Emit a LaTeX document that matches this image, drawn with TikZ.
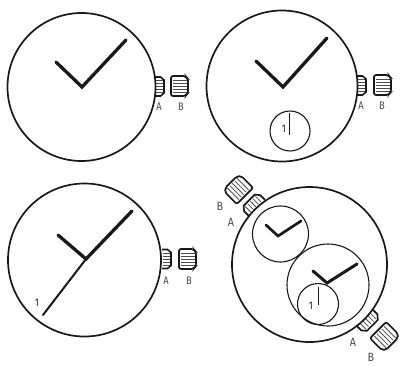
\documentclass[tikz,border=0pt]{standalone}
\usepackage{fontspec}
\setsansfont{Fira Sans}
\usepackage{tikz}

\definecolor{inkc}{gray}{0.10}
\definecolor{labelc}{gray}{0.30}
\tikzset{
  rim/.style={line width=1.7pt, draw=inkc},
  dial/.style={line width=1.1pt, draw=inkc},
  hand/.style={line width=3.3pt, draw=inkc, line cap=round, line join=miter},
  thinhand/.style={line width=2pt, draw=inkc, line cap=round},
  tick/.style={line width=0.8pt, draw=inkc},
  lab/.style={font=\sffamily\fontsize{11}{11}\selectfont, text=labelc, inner sep=0pt, xscale=0.85},
  biglab/.style={font=\sffamily\fontsize{12}{12}\selectfont, text=labelc, inner sep=0pt, xscale=0.9},
  num/.style={font=\sffamily\fontsize{11}{11}\selectfont, text=inkc, inner sep=0pt, xscale=0.85},
  pics/crowna/.style={code={
    \foreach \y in {-6,-3,0,3,6} \draw[line width=0.8pt, draw=labelc] (-3.5,\y) -- (3,\y);
    \draw[line width=1.6pt, draw=inkc] (-4.5,-9.5) -- (1,-9.5) -- (4.5,-6.5) -- (4.5,6.5) -- (1,9.5) -- (-4.5,9.5);
  }},
  pics/crownb/.style={code={
    \foreach \y in {-6,-3,0,3,6} \draw[line width=0.8pt, draw=labelc] (-7,\y) -- (7,\y);
    \draw[line width=1.7pt, draw=inkc, rounded corners=2pt] (-8.5,-10) -- (6,-10) -- (8.5,-7) -- (8.5,7) -- (6,10) -- (-8.5,10) -- cycle;
  }},
}

\begin{document}
\begin{tikzpicture}[x=1pt, y=-1pt]
  \useasboundingbox (0,0) rectangle (401,365);

  % top left
  \pic at (159.5,86.5) {crowna};
  \pic at (179.5,86) {crownb};
  \draw[rim] (81.5,87) circle [radius=74];
  \draw[hand] (56,62) -- (82,87) -- (126,40);
  \node[lab] (a1) at (159,107) {A};
  \node[lab] (b1) at (181,107) {B};

  % top right
  \pic at (361.5,85.5) {crowna};
  \pic at (382.5,85) {crownb};
  \draw[rim] (282,86) circle [radius=75.5];
  \draw[hand] (256,61) -- (283,87) -- (327,38);
  \draw[dial] (290,131) circle [radius=20];
  \draw[tick] (289.5,113) -- (289.5,135);
  \node[num] (n2) at (284,129) {1};
  \node[lab] (a2) at (361,106) {A};
  \node[lab] (b2) at (382,106) {B};

  % bottom left
  \pic at (166.5,259) {crowna};
  \pic at (187.5,259) {crownb};
  \draw[rim] (84.5,260) circle [radius=76.5];
  \draw[thinhand] (86,259) -- (43,315);
  \draw[hand] (58,235) -- (86,259) -- (132,211);
  \node[num] (n3) at (37,303) {1};
  \node[lab] (a3) at (166,281) {A};
  \node[lab] (b3) at (189,281) {B};

  % bottom right
  \pic[rotate=135, scale=1.2] at (253,204) {crowna};
  \pic[rotate=135, scale=1.15] at (238,189) {crownb};
  \pic[rotate=-45, scale=1.2] at (368.5,321.5) {crowna};
  \pic[rotate=-45, scale=1.15] at (385,337) {crownb};
  \draw[rim] (309.5,264.5) circle [radius=77.5];
  \draw[dial] (280.5,234) circle [radius=28];
  \draw[hand, line width=2.7pt] (266,225) -- (278,236) -- (301,221);
  \draw[dial] (328,285) circle [radius=41];
  \draw[hand, line width=3pt] (313,271) -- (327,283) -- (357,264);
  \draw[dial] (318,304) circle [radius=20.5];
  \draw[tick] (318,287) -- (318,305);
  \node[num] (n4) at (311,306) {1};
  \node[biglab] (b4) at (220,206) {B};
  \node[biglab] (a4) at (231,222) {A};
  \node[biglab] (a5) at (353,342) {A};
  \node[biglab] (b5) at (371,357.5) {B};
\end{tikzpicture}
\end{document}
